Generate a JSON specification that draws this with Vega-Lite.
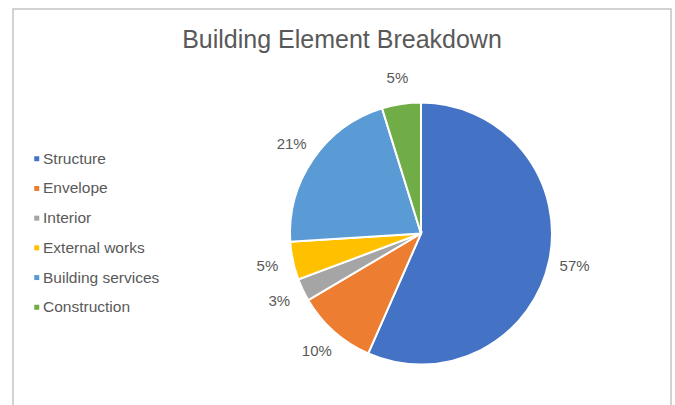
{
  "$schema": "https://vega.github.io/schema/vega-lite/v6.json",
  "autosize": {"type": "fit", "contains": "padding"},
  "width": 675,
  "height": 405,
  "padding": {"left": 13, "top": 9, "right": 4, "bottom": -3},
  "background": "white",
  "view": {"fill": "white", "stroke": "#c4c4c4", "strokeWidth": 1.5},
  "title": {
    "text": "Building Element Breakdown",
    "orient": "top",
    "anchor": "middle",
    "frame": "group",
    "offset": -64,
    "baseline": "alphabetic",
    "font": "Liberation Sans",
    "fontSize": 25,
    "fontWeight": "normal",
    "color": "#595959"
  },
  "data": {
    "values": [
      {"element": "Structure", "share": 0.566, "rank": 1},
      {"element": "Envelope", "share": 0.099, "rank": 2},
      {"element": "Interior", "share": 0.028, "rank": 3},
      {"element": "External works", "share": 0.047, "rank": 4},
      {"element": "Building services", "share": 0.212, "rank": 5},
      {"element": "Construction", "share": 0.048, "rank": 6}
    ]
  },
  "encoding": {
    "theta": {"field": "share", "type": "quantitative", "stack": true},
    "order": {"field": "rank", "type": "quantitative", "sort": "ascending"}
  },
  "layer": [
    {
      "mark": {"type": "arc", "radius": 131, "xOffset": 79, "yOffset": 25, "stroke": "white", "strokeWidth": 2},
      "encoding": {
        "color": {
          "field": "element",
          "type": "nominal",
          "sort": ["Structure", "Envelope", "Interior", "External works", "Building services", "Construction"],
          "scale": {
            "domain": ["Structure", "Envelope", "Interior", "External works", "Building services", "Construction"],
            "range": ["#4472C4", "#ED7D31", "#A5A5A5", "#FFC000", "#5B9BD5", "#70AD47"]
          },
          "legend": {
            "title": null,
            "orient": "none",
            "legendX": 16,
            "legendY": 142,
            "symbolType": "square",
            "symbolSize": 25,
            "symbolStrokeWidth": 0,
            "labelFont": "Liberation Sans",
            "labelFontSize": 15.5,
            "labelColor": "#595959",
            "labelOffset": -1.5,
            "rowPadding": 12.7,
            "padding": 0
          }
        }
      }
    },
    {
      "mark": {"type": "text", "radius": 157, "xOffset": 79, "yOffset": 25, "font": "Liberation Sans", "fontSize": 15, "color": "#595959"},
      "encoding": {
        "text": {"field": "share", "type": "quantitative", "format": ".0%"}
      }
    }
  ]
}
